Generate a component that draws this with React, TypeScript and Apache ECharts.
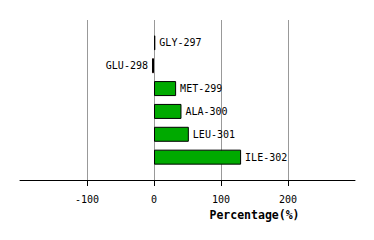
import React, { useEffect, useRef } from "react";
import * as echarts from "echarts";

const categories = ["GLY-297", "GLU-298", "MET-299", "ALA-300", "LEU-301", "ILE-302"];
const values = [2, -3, 33, 41, 52, 130];
const tickValues = [-100, 0, 100, 200];
const axisTitle = "Percentage(%)";

export default function App() {
  const ref = useRef<HTMLDivElement>(null);
  useEffect(() => {
    if (!ref.current) return;
    const chart = echarts.init(ref.current, null, { renderer: "svg" });
    const font = "'DejaVu Sans Mono', monospace";
    const yData = ["", ...categories, ""];
    const seriesData: any[] = [null];
    values.forEach((v, i) => {
      seriesData.push({
        value: v,
        name: categories[i],
        itemStyle: { color: v >= 0 ? "#00aa00" : "#dd0000", borderColor: "#000", borderWidth: 1 },
        label: {
          show: true,
          position: v >= 0 ? "right" : "left",
          distance: 4,
          formatter: categories[i],
          fontFamily: font,
          fontSize: 10,
          color: "#000",
        },
      });
    });
    seriesData.push(null);
    chart.setOption({
      animation: false,
      grid: { left: 20, right: 19, top: 20, bottom: 60, containLabel: false },
      xAxis: {
        type: "value",
        min: -200,
        max: 300,
        interval: 100,
        axisLine: { show: true, lineStyle: { color: "#000", width: 1 } },
        axisTick: { show: true, customValues: tickValues, length: 6, lineStyle: { color: "#000" } },
        axisLabel: {
          customValues: tickValues,
          fontFamily: font,
          fontSize: 10,
          color: "#000",
          margin: 14,
        },
        splitLine: { show: true, lineStyle: { color: "#999", width: 1 } },
      },
      yAxis: {
        type: "category",
        data: yData,
        inverse: true,
        boundaryGap: false,
        axisLine: { show: false },
        axisTick: { show: false },
        axisLabel: { show: false },
        splitLine: { show: false },
      },
      series: [
        {
          type: "bar",
          data: seriesData,
          barWidth: 15,
        },
      ],
      graphic: [
        {
          type: "text",
          x: 254.5,
          y: 215,
          style: {
            text: axisTitle,
            fontFamily: font,
            fontSize: 11.5,
            fontWeight: "bold",
            fill: "#000",
            align: "center",
            verticalAlign: "middle",
          },
        },
      ],
    });
    return () => chart.dispose();
  }, []);
  return (
    <div
      ref={ref}
      style={{ position: "fixed", left: 0, top: 0, width: 374, height: 240, background: "#fff" }}
    />
  );
}
